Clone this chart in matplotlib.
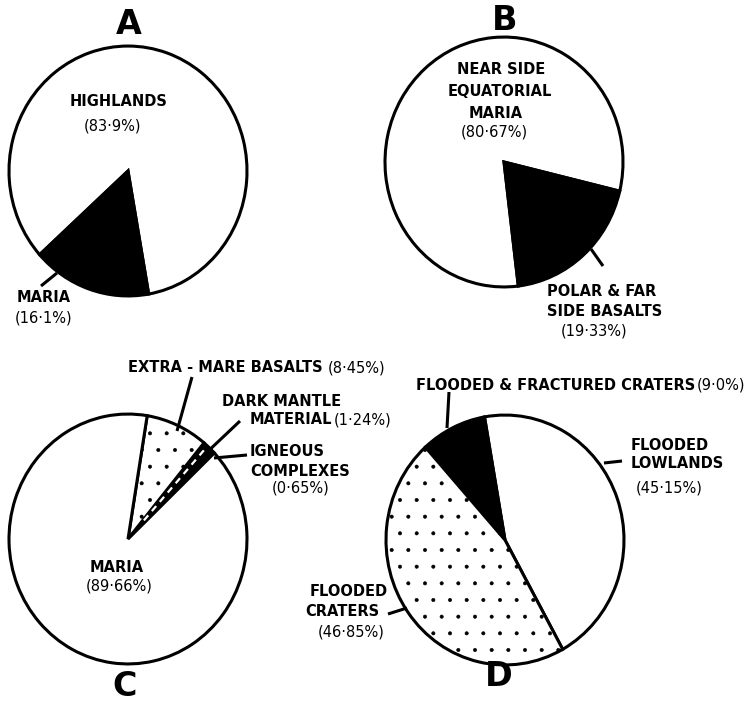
import matplotlib.pyplot as plt
import numpy as np

# Lunar mare basalt areas, four breakdowns (percent of area)
a_names = ["HIGHLANDS", "MARIA"]
a_vals = [83.9, 16.1]

b_names = ["NEAR SIDE EQUATORIAL MARIA", "POLAR & FAR SIDE BASALTS"]
b_vals = [80.67, 19.33]

c_names = ["IGNEOUS COMPLEXES", "DARK MANTLE MATERIAL", "EXTRA-MARE BASALTS", "MARIA"]
c_vals = [0.65, 1.24, 8.45, 89.66]

d_names = ["FLOODED LOWLANDS", "FLOODED & FRACTURED CRATERS", "FLOODED CRATERS"]
d_vals = [45.15, 9.0, 46.85]

W, H = 748, 701
S = 1.05          # circles come out a little taller than wide
R = 119

plt.rcParams["hatch.linewidth"] = 0.4


def P(x, y):
    # page position (pixels from top-left) -> data coords
    return x, (H - y) / S


def pct(v, d):
    return f"({v:.{d}f}%)".replace(".", "·")


fig = plt.figure(figsize=(W / 100, H / 100), dpi=100)
ax = fig.add_axes([0, 0, 1, 1])

wp = dict(edgecolor="black", linewidth=2.2)

# A
ax.pie(a_vals, colors=["white", "black"], startangle=-80, counterclock=True,
       center=P(128, 171), radius=R, wedgeprops=wp)
# B
ax.pie(b_vals, colors=["white", "black"], startangle=-13.5, counterclock=True,
       center=P(504, 162), radius=R, wedgeprops=wp)
# C
wc, _ = ax.pie(c_vals, colors=["black", "black", "white", "white"],
               hatch=["", "", ".", ""], startangle=43.5, counterclock=True,
               center=P(128, 539), radius=R, wedgeprops=wp)
# white dashes running along the dark mantle sliver
dm = wc[1]
th = np.deg2rad((dm.theta1 + dm.theta2) / 2)
cx, cy = dm.center
rr = np.array([0.2, 0.97]) * R
ax.plot(cx + rr * np.cos(th), cy + rr * np.sin(th), color="white",
        lw=1.6, dashes=(3, 2.5), solid_capstyle="butt")
# D
ax.pie(d_vals, colors=["white", "black", "white"], hatch=["", "", "."],
       startangle=-61, counterclock=True,
       center=P(505, 540), radius=R, wedgeprops=wp)

ax.set_aspect("auto")
ax.set_xlim(0, W)
ax.set_ylim(0, H / S)
ax.axis("off")

big = dict(fontsize=24, fontweight="heavy", ha="center", va="center")
lab = dict(fontsize=10.5, fontweight="bold", va="center")
num = dict(fontsize=10.5, va="center")

for letter, (x, y) in zip("ABCD", [(129, 25), (505, 20), (125, 686), (499, 677)]):
    ax.text(*P(x, y), letter, **big)


def leader(x0, y0, x1, y1):
    ax.plot(*zip(P(x0, y0), P(x1, y1)), color="black", lw=2.2,
            solid_capstyle="butt")


# A labels
ax.text(*P(119, 102), a_names[0], ha="center", **lab)
ax.text(*P(113, 126), pct(a_vals[0], 1), ha="center", **num)
ax.text(*P(44, 298), a_names[1], ha="center", **lab)
ax.text(*P(44, 318), pct(a_vals[1], 1), ha="center", **num)
leader(41, 286, 57, 273)

# B labels
for s, (x, y) in zip(["NEAR SIDE", "EQUATORIAL", "MARIA"],
                     [(501, 70), (500, 92), (496, 113)]):
    ax.text(*P(x, y), s, ha="center", **lab)
ax.text(*P(494, 132), pct(b_vals[0], 2), ha="center", **num)
ax.text(*P(547, 292), "POLAR & FAR", ha="left", **lab)
ax.text(*P(547, 312), "SIDE BASALTS", ha="left", **lab)
ax.text(*P(594, 331), pct(b_vals[1], 2), ha="center", **num)
leader(591, 249, 603, 266)

# C labels
t = ax.text(*P(128, 368), "EXTRA - MARE BASALTS", ha="left", **lab)
ax.annotate(pct(c_vals[2], 2), xy=(1, 0.5), xycoords=t, xytext=(4, 0),
            textcoords="offset points", ha="left", **num)
ax.text(*P(222, 402), "DARK MANTLE", ha="left", **lab)
t = ax.text(*P(250, 420), "MATERIAL", ha="left", **lab)
ax.annotate(pct(c_vals[1], 2), xy=(1, 0.5), xycoords=t, xytext=(1, 0),
            textcoords="offset points", ha="left", **num)
ax.text(*P(250, 452), "IGNEOUS", ha="left", **lab)
ax.text(*P(250, 471), "COMPLEXES", ha="left", **lab)
ax.text(*P(301, 488), pct(c_vals[0], 2), ha="center", **num)
ax.text(*P(117, 567), c_names[3], ha="center", **lab)
ax.text(*P(119, 586), pct(c_vals[3], 2), ha="center", **num)
leader(192, 377, 177, 431)
leader(240, 421, 203, 456)
leader(247, 455, 214, 458)

# D labels
t = ax.text(*P(416, 385), "FLOODED & FRACTURED CRATERS", ha="left", **lab)
ax.annotate(pct(d_vals[1], 1), xy=(1, 0.5), xycoords=t, xytext=(1, 0),
            textcoords="offset points", ha="left", **num)
ax.text(*P(631, 445), "FLOODED", ha="left", **lab)
ax.text(*P(631, 463), "LOWLANDS", ha="left", **lab)
ax.text(*P(669, 488), pct(d_vals[0], 2), ha="center", **num)
ax.text(*P(388, 592), "FLOODED", ha="right", **lab)
ax.text(*P(379, 612), "CRATERS", ha="right", **lab)
ax.text(*P(385, 632), pct(d_vals[2], 2), ha="right", **num)
leader(449, 392, 447, 428)
leader(604, 463, 622, 461)
leader(388, 614, 407, 608)

fig.savefig("out.png", dpi=100, facecolor="white")
